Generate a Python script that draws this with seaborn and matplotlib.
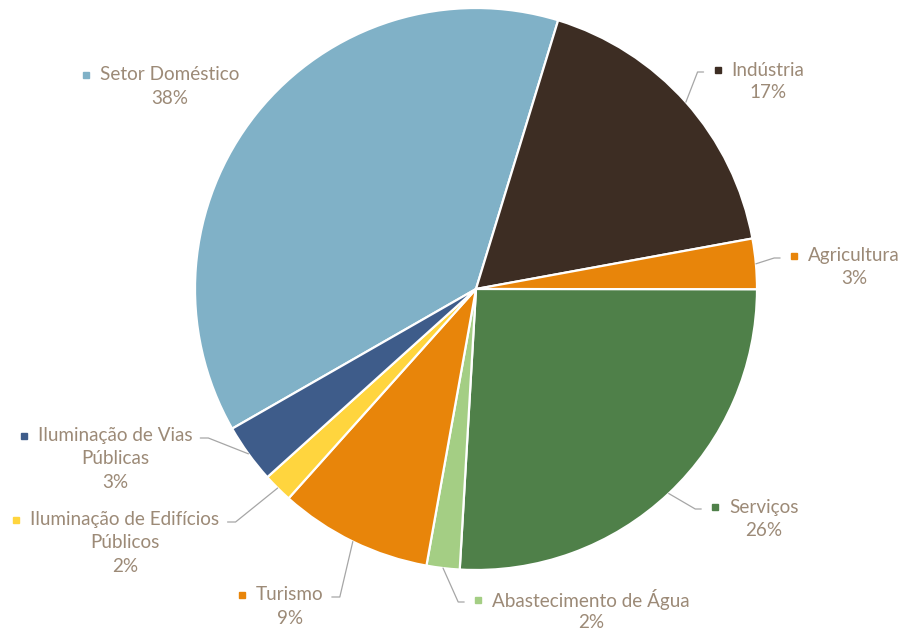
import matplotlib
matplotlib.use("Agg")
import matplotlib.pyplot as plt
from matplotlib.transforms import IdentityTransform
import numpy as np
import seaborn as sns

# dados: consumo de energia por setor (%)
setores = ["Setor Doméstico", "Indústria", "Agricultura", "Serviços",
           "Abastecimento de Água", "Turismo",
           "Iluminação de Edifícios Públicos", "Iluminação de Vias Públicas"]
consumo = [38.0, 17.4, 2.9, 25.9, 1.9, 8.8, 1.7, 3.4]
cores = ["#80B1C7", "#3D2D23", "#E8850A", "#4F8049",
         "#A4CE84", "#E8850A", "#FFD53E", "#3E5C8A"]
# linhas de texto de cada rótulo (nome quebrado como no original)
linhas = [["Setor Doméstico"], ["Indústria"], ["Agricultura"], ["Serviços"],
          ["Abastecimento de Água"], ["Turismo"],
          ["Iluminação de Edifícios", "Públicos"], ["Iluminação de Vias", "Públicas"]]

# posição (px) do centro da 1a linha de cada rótulo, e se tem linha de chamada
pos_rotulo = [(170, 75), (768, 70), (854, 256), (764, 507),
              (591, 600), (290, 595), (125, 520), (115, 436)]
com_linha = [False, True, True, True, True, True, True, True]

sns.set_style("white")
plt.rcParams["font.family"] = ["Lato", "DejaVu Sans"]
cor_texto = "#9C8A77"
cor_linha = "#A6A6A6"

W, H = 903, 631
fig = plt.figure(figsize=(W / 100, H / 100), dpi=100)
cx, cy, r = 476, 289, 281
ax = fig.add_axes([(cx - r) / W, (H - cy - r) / H, 2 * r / W, 2 * r / H])

wedges, _ = ax.pie(consumo, colors=cores, startangle=209.8, counterclock=False,
                   radius=1, wedgeprops=dict(edgecolor="white", linewidth=1.6))
ax.set_xlim(-1, 1)
ax.set_ylim(-1, 1)
ax.axis("off")

px = IdentityTransform()
fs = 13.6
dy = 23

textos = []
for i, (nome, v) in enumerate(zip(linhas, consumo)):
    x, y = pos_rotulo[i]
    blocos = nome + [f"{round(v):.0f}%"]
    ts = []
    for k, s in enumerate(blocos):
        t = ax.text(x, H - (y + k * dy), s, transform=px, ha="center", va="center",
                    fontsize=fs, color=cor_texto, clip_on=False)
        ts.append(t)
    textos.append(ts)

fig.canvas.draw()
rend = fig.canvas.get_renderer()

for i, w in enumerate(wedges):
    bb = textos[i][0].get_window_extent(rend)
    ymid = (bb.y0 + bb.y1) / 2
    sq_x = bb.x0 - 14
    ax.plot([sq_x], [ymid], marker="s", markersize=5, color=cores[i],
            transform=px, clip_on=False)
    if not com_linha[i]:
        continue
    ang = np.deg2rad((w.theta1 + w.theta2) / 2)
    x0, y0 = ax.transData.transform((np.cos(ang), np.sin(ang)))
    if pos_rotulo[i][0] > cx:
        xe = sq_x - 4 - 10
        xm = xe - 6
    else:
        xe = bb.x1 + 8
        xm = xe + 8
    ye = ymid - 2
    ax.plot([x0, xm, xe], [y0, ye, ye], color=cor_linha, linewidth=0.9,
            transform=px, clip_on=False)

plt.savefig("out.png", dpi=100)
